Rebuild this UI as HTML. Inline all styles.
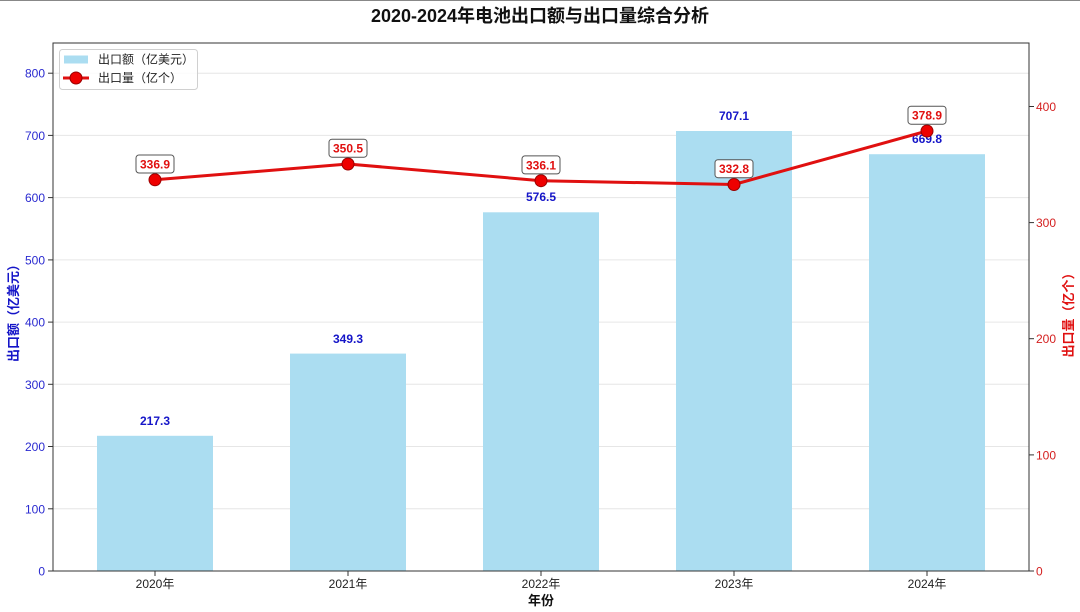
<!DOCTYPE html>
<html><head><meta charset="utf-8"><style>
html,body{margin:0;padding:0;background:#fff;}
svg{display:block;font-family:"Liberation Sans","Noto Sans CJK SC",sans-serif;}
</style></head><body>
<svg width="1080" height="612" viewBox="0 0 1080 612" xmlns="http://www.w3.org/2000/svg">
<rect x="0" y="0" width="1080" height="612" fill="#fff"/>
<line x1="0" y1="0.5" x2="1080" y2="0.5" stroke="#888" stroke-width="1"/>
<text x="540" y="22" text-anchor="middle" font-size="18" font-weight="bold" fill="#111">2020-2024年电池出口额与出口量综合分析</text>
<!-- grid -->
<g stroke="#e6e6e6" stroke-width="1">
<line x1="53" x2="1029" y1="508.8" y2="508.8"/>
<line x1="53" x2="1029" y1="446.5" y2="446.5"/>
<line x1="53" x2="1029" y1="384.3" y2="384.3"/>
<line x1="53" x2="1029" y1="322.1" y2="322.1"/>
<line x1="53" x2="1029" y1="259.9" y2="259.9"/>
<line x1="53" x2="1029" y1="197.6" y2="197.6"/>
<line x1="53" x2="1029" y1="135.4" y2="135.4"/>
<line x1="53" x2="1029" y1="73.2" y2="73.2"/>
</g>
<!-- bars -->
<g fill="#ABDDF1">
<rect x="97" y="435.8" width="116" height="135.2"/>
<rect x="290" y="353.6" width="116" height="217.4"/>
<rect x="483" y="212.3" width="116" height="358.7"/>
<rect x="676" y="131" width="116" height="440"/>
<rect x="869" y="154.2" width="116" height="416.8"/>
</g>
<!-- bar labels -->
<g font-size="12" font-weight="bold" fill="#1515c8" text-anchor="middle">
<text x="155" y="425">217.3</text>
<text x="348" y="343">349.3</text>
<text x="541" y="201">576.5</text>
<text x="734" y="120">707.1</text>
<text x="927" y="143">669.8</text>
</g>
<!-- line -->
<polyline points="155,179.8 348,164 541,180.7 734,184.5 927,131" fill="none" stroke="#e01010" stroke-width="3" stroke-linejoin="round"/>
<g fill="#ee0000" stroke="#990000" stroke-width="1">
<circle cx="155" cy="179.8" r="6"/>
<circle cx="348" cy="164" r="6"/>
<circle cx="541" cy="180.7" r="6"/>
<circle cx="734" cy="184.5" r="6"/>
<circle cx="927" cy="131" r="6"/>
</g>
<!-- line labels -->
<g fill="#fff" stroke="#555" stroke-width="1">
<rect x="136" y="155" width="38" height="18" rx="3"/>
<rect x="329" y="139.2" width="38" height="18" rx="3"/>
<rect x="522" y="155.9" width="38" height="18" rx="3"/>
<rect x="715" y="159.7" width="38" height="18" rx="3"/>
<rect x="908" y="106.2" width="38" height="18" rx="3"/>
</g>
<g font-size="12" font-weight="bold" fill="#e01010" text-anchor="middle">
<text x="155" y="168.5">336.9</text>
<text x="348" y="152.7">350.5</text>
<text x="541" y="169.4">336.1</text>
<text x="734" y="173.2">332.8</text>
<text x="927" y="119.7">378.9</text>
</g>
<!-- spines -->
<rect x="53" y="43" width="976" height="528" fill="none" stroke="#333" stroke-width="1"/>
<!-- left ticks -->
<g stroke="#333" stroke-width="1">
<line x1="48" x2="53" y1="571" y2="571"/>
<line x1="48" x2="53" y1="508.8" y2="508.8"/>
<line x1="48" x2="53" y1="446.5" y2="446.5"/>
<line x1="48" x2="53" y1="384.3" y2="384.3"/>
<line x1="48" x2="53" y1="322.1" y2="322.1"/>
<line x1="48" x2="53" y1="259.9" y2="259.9"/>
<line x1="48" x2="53" y1="197.6" y2="197.6"/>
<line x1="48" x2="53" y1="135.4" y2="135.4"/>
<line x1="48" x2="53" y1="73.2" y2="73.2"/>
<line x1="1029" x2="1034" y1="571" y2="571"/>
<line x1="1029" x2="1034" y1="454.9" y2="454.9"/>
<line x1="1029" x2="1034" y1="338.7" y2="338.7"/>
<line x1="1029" x2="1034" y1="222.6" y2="222.6"/>
<line x1="1029" x2="1034" y1="106.5" y2="106.5"/>
<line x1="155" x2="155" y1="571" y2="576"/>
<line x1="348" x2="348" y1="571" y2="576"/>
<line x1="541" x2="541" y1="571" y2="576"/>
<line x1="734" x2="734" y1="571" y2="576"/>
<line x1="927" x2="927" y1="571" y2="576"/>
</g>
<g font-size="12" fill="#2a2ad0" text-anchor="end">
<text x="45" y="575.5">0</text>
<text x="45" y="513.3">100</text>
<text x="45" y="451">200</text>
<text x="45" y="388.8">300</text>
<text x="45" y="326.6">400</text>
<text x="45" y="264.4">500</text>
<text x="45" y="202.1">600</text>
<text x="45" y="139.9">700</text>
<text x="45" y="77.7">800</text>
</g>
<g font-size="12" fill="#d42020" text-anchor="start">
<text x="1036" y="575.5">0</text>
<text x="1036" y="459.4">100</text>
<text x="1036" y="343.2">200</text>
<text x="1036" y="227.1">300</text>
<text x="1036" y="111">400</text>
</g>
<g font-size="12" fill="#222" text-anchor="middle">
<text x="155" y="588">2020年</text>
<text x="348" y="588">2021年</text>
<text x="541" y="588">2022年</text>
<text x="734" y="588">2023年</text>
<text x="927" y="588">2024年</text>
</g>
<text x="541" y="605" text-anchor="middle" font-size="13" font-weight="bold" fill="#111">年份</text>
<text transform="translate(18,310) rotate(-90)" text-anchor="middle" font-size="13" font-weight="bold" fill="#1515c8">出口额（亿美元）</text>
<text transform="translate(1073,312) rotate(-90)" text-anchor="middle" font-size="13" font-weight="bold" fill="#e01010">出口量（亿个）</text>
<!-- legend -->
<rect x="59.5" y="49.5" width="138" height="40" rx="3" fill="#fff" fill-opacity="0.85" stroke="#d0d0d0" stroke-width="1"/>
<rect x="64" y="55.5" width="24" height="8" fill="#ABDDF1"/>
<text x="98" y="63.5" font-size="12" fill="#222">出口额（亿美元）</text>
<line x1="63" x2="89" y1="78" y2="78" stroke="#e01010" stroke-width="3"/>
<circle cx="76" cy="78" r="6" fill="#ee0000" stroke="#990000" stroke-width="1"/>
<text x="98" y="82" font-size="12" fill="#222">出口量（亿个）</text>
</svg>
</body></html>
